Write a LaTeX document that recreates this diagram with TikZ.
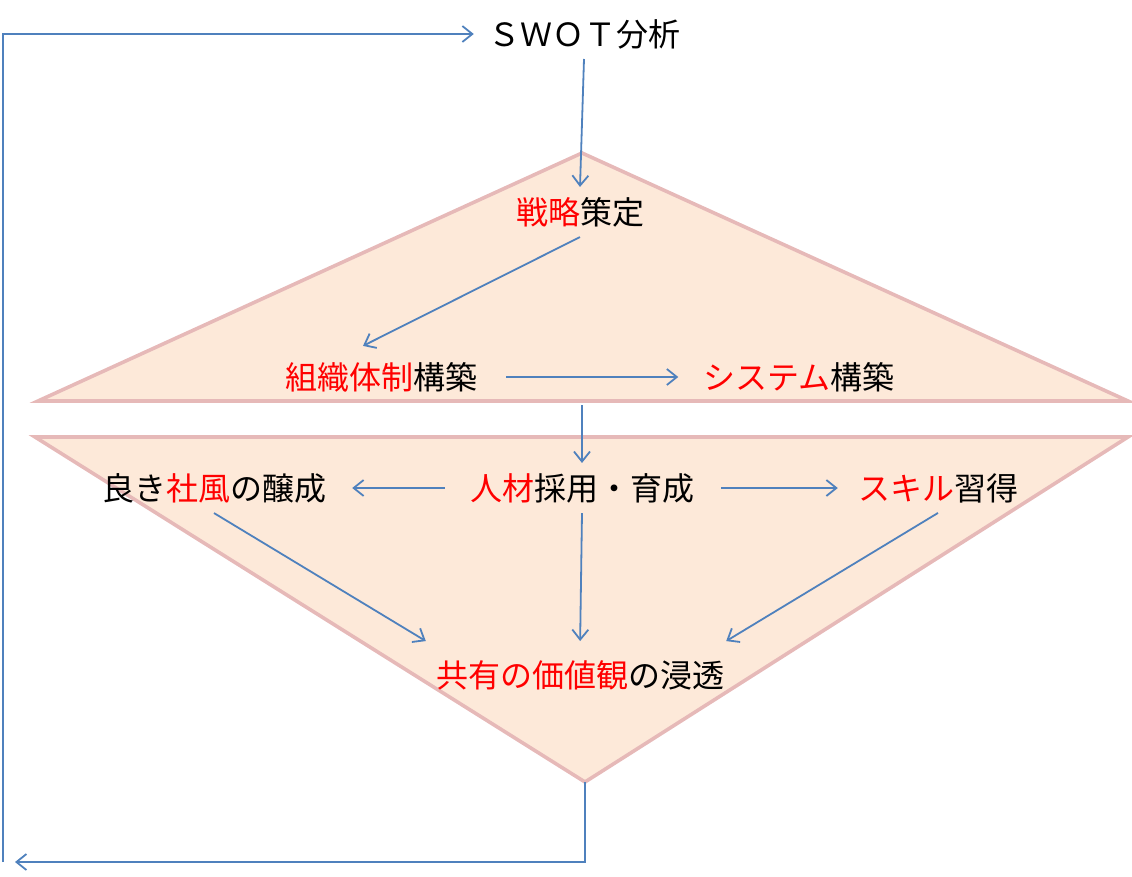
\documentclass[tikz,border=0pt]{standalone}
\usepackage{fontspec}
\newfontfamily\cjk{Noto Sans CJK JP}
\usepackage{tikz}
\usetikzlibrary{arrows.meta}
\definecolor{flowblue}{RGB}{79,129,189}
\definecolor{trifill}{RGB}{253,233,217}
\definecolor{triedge}{RGB}{230,185,184}
\tikzstyle{stage} = [font=\cjk\fontsize{32}{32}\selectfont, inner sep=10pt, text=black]
\tikzstyle{arrow} = [line width=1.8pt, draw=flowblue, -{Straight Barb[length=10pt,width=16pt]}]
\tikzstyle{tri} = [fill=trifill, draw=triedge, line width=3.6pt]
\newcommand{\redpart}[1]{\textcolor{red}{#1}}

\begin{document}
\begin{tikzpicture}[x=1pt, y=-1pt]
    \useasboundingbox (0,0) rectangle (1132,877);
    % the two triangles
    \draw[tri] (582,153) -- (1128,401) -- (38,401) -- cycle;
    \draw[tri] (35,437) -- (1128,437) -- (585,782) coordinate (apex) -- cycle;
    \coordinate (topbase) at (582,401);
    \coordinate (loopend) at (15,862);
    \coordinate (loopstart) at (3,862);

    \node (swot) [stage] at (584,34) {ＳＷＯＴ分析};
    \node (strat) [stage] at (580,212) {\redpart{戦略}策定};
    \node (org) [stage] at (381,377) {\redpart{組織体制}構築};
    \node (sys) [stage] at (799,377) {\redpart{システム}構築};
    \node (hr) [stage] at (582,488) {\redpart{人材}採用・育成};
    \node (culture) [stage] at (214,488) {良き\redpart{社風}の醸成};
    \node (skill) [stage] at (938,488) {\redpart{スキル}習得};
    \node (values) [stage] at (580,675) {\redpart{共有の価値観}の浸透};

    \draw [arrow] (swot.south) -- (strat.north);
    \draw [arrow] (strat.south) -- ([xshift=-18pt,yshift=6pt]org.north);
    \draw [arrow, shorten <=19pt, shorten >=15pt] (org.east) -- (sys.west);
    \draw [arrow, shorten <=4pt] (topbase) -- (hr.north);
    \draw [arrow, shorten <=15pt, shorten >=16pt] (hr.west) -- (culture.east);
    \draw [arrow, shorten <=17pt, shorten >=10pt] (hr.east) -- (skill.west);
    \draw [arrow] (culture.south) -- ([yshift=9pt]values.north west);
    \draw [arrow, shorten >=9pt] (hr.south) -- (values.north);
    \draw [arrow] (skill.south) -- ([xshift=-8pt,yshift=9pt]values.north east);
    % feedback loop
    \draw [arrow] (apex) |- (loopend);
    \draw [arrow, shorten >=4pt] (loopstart) |- (swot.west);
\end{tikzpicture}
\end{document}
